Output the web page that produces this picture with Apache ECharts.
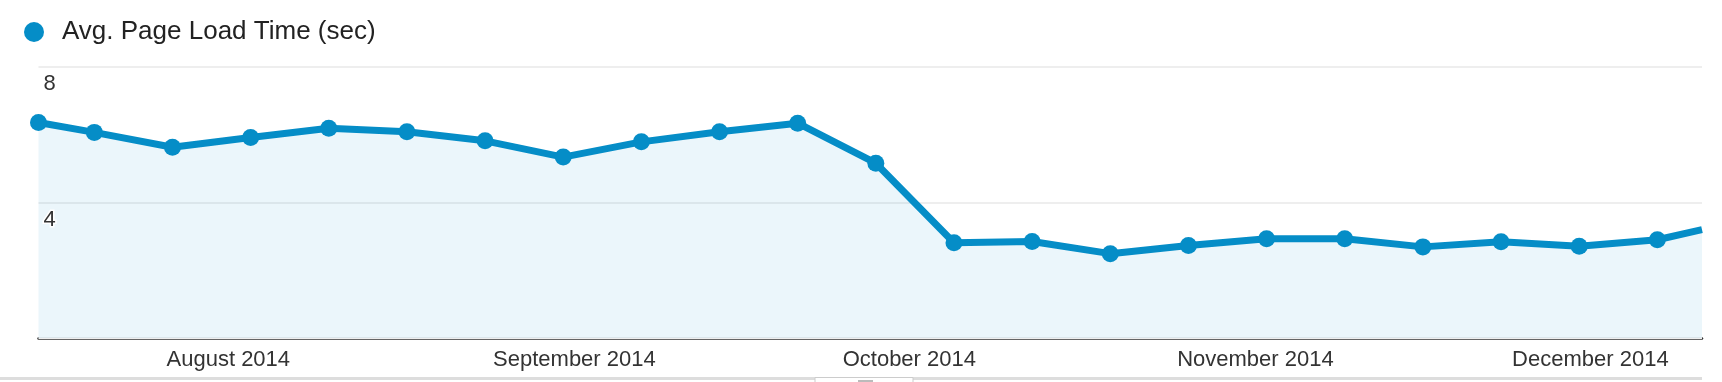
<!DOCTYPE html>
<html>
<head>
<meta charset="utf-8">
<script src="https://cdn.jsdelivr.net/npm/echarts@6/dist/echarts.min.js"></script>
<style>
html,body{margin:0;padding:0;background:#fff;}
#chart{width:1722px;height:382px;}
</style>
</head>
<body>
<div id="chart"></div>
<script>
// ---- data ----
const seriesName = 'Avg. Page Load Time (sec)';
const dates = ['2014-07-15','2014-07-20','2014-07-27','2014-08-03','2014-08-10','2014-08-17','2014-08-24','2014-08-31',
  '2014-09-07','2014-09-14','2014-09-21','2014-09-28','2014-10-05','2014-10-12','2014-10-19','2014-10-26',
  '2014-11-02','2014-11-09','2014-11-16','2014-11-23','2014-11-30','2014-12-07','2014-12-11'];
const values = [6.36,6.07,5.63,5.92,6.19,6.09,5.82,5.34,5.79,6.09,6.34,5.16,2.81,2.85,2.49,2.73,2.93,2.93,2.69,2.84,2.71,2.90,3.20];
const rangeStart = '2014-07-15';
const rangeEnd = '2014-12-11';
const labelDates = ['2014-08-01','2014-09-01','2014-10-01','2014-11-01','2014-12-01'];
const labelTexts = ['August 2014','September 2014','October 2014','November 2014','December 2014'];
const yTicks = [0,4,8];

function toTs(s){ const p=s.split('-').map(Number); return Date.UTC(p[0],p[1]-1,p[2]); }
const labelTs = labelDates.map(toTs);

const data = dates.map((d,i)=>{
  const item = {value:[toTs(d), values[i]]};
  if (i === dates.length-1) item.symbol = 'none';
  return item;
});

const FONT = '"Liberation Sans", Arial, Helvetica, sans-serif';
const BLUE = '#058DC7';

const chart = echarts.init(document.getElementById('chart'), null, {renderer:'canvas'});
chart.setOption({
  animation:false,
  backgroundColor:'#fff',
  legend:{
    data:[seriesName], left:19, top:14, padding:5, icon:'circle', itemWidth:20, itemHeight:20,
    textStyle:{fontSize:26, color:'#222', fontFamily:FONT, padding:[0,0,0,13]},
    selectedMode:false
  },
  grid:{left:38.5, right:20, top:67, bottom:44},
  xAxis:{
    type:'value', min:toTs(rangeStart), max:toTs(rangeEnd),
    axisLine:{show:true, onZero:false, lineStyle:{color:'#333', width:2.5}},
    axisTick:{show:false},
    splitLine:{show:false},
    axisLabel:{
      customValues:labelTs, fontSize:22, color:'#333', fontFamily:FONT, margin:11,
      hideOverlap:false,
      formatter:function(v){ const i=labelTs.indexOf(v); return i>=0?labelTexts[i]:''; }
    }
  },
  yAxis:{
    type:'value', min:yTicks[0], max:yTicks[yTicks.length-1], interval:yTicks[1]-yTicks[0],
    axisLine:{show:false}, axisTick:{show:false},
    splitLine:{lineStyle:{color:'#eeeeee', width:2}},
    axisLabel:{inside:true, showMinLabel:false, margin:5, fontSize:22, color:'#333', fontFamily:FONT,
      verticalAlign:'top', padding:[6,0,0,0], textBorderColor:'#fff', textBorderWidth:3},
    z:3
  },
  series:[{
    name:seriesName, type:'line', data:data,
    symbol:'circle', symbolSize:17, showAllSymbol:true,
    lineStyle:{color:BLUE, width:7},
    itemStyle:{color:BLUE},
    areaStyle:{color:'rgba(5,141,199,0.11)'},
    emphasis:{disabled:true}
  }],
  graphic:[
    {type:'rect', shape:{x:0, y:377, width:1702, height:3}, style:{fill:'#dddddd'}, silent:true},
    {type:'rect', shape:{x:815, y:377.5, width:98, height:8}, style:{fill:'#fff', stroke:'#cccccc', lineWidth:1}, silent:true},
    {type:'rect', shape:{x:858, y:380, width:15, height:3}, style:{fill:'#bbbbbb'}, silent:true}
  ]
});
</script>
</body>
</html>
